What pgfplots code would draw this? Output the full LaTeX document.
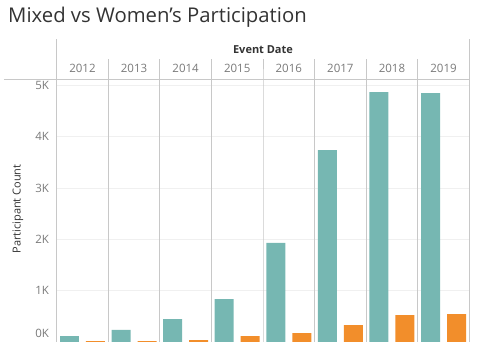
\documentclass[border=0pt]{standalone}
\usepackage{pgfplots}
\pgfplotsset{compat=1.18}
\usepackage{fontspec}
\setmainfont{Open Sans}
\definecolor{mixc}{HTML}{76B7B2}
\definecolor{womc}{HTML}{F28E2B}
\definecolor{sepc}{HTML}{C8C8C8}
\definecolor{gridc}{HTML}{F0F0F0}
\definecolor{tickc}{HTML}{7A7A7A}
\definecolor{titc}{HTML}{333333}
\begin{document}
\begin{tikzpicture}[x=1pt,y=1pt]
\path[use as bounding box] (0,0) rectangle (478,352);
\node[anchor=base west, inner sep=0pt, text=titc, font=\fontsize{20.3}{23}\selectfont] at (8,329) {Mixed vs Women’s Participation};
\node[rotate=90, text=titc, font=\fontsize{11}{13}\selectfont, inner sep=0pt] at (18,143) {Participant Count};
\begin{axis}[
  at={(56.7pt,10pt)}, anchor=south west,
  scale only axis, width=412.6pt, height=262.7pt,
  xmin=0, xmax=8, ymin=0, ymax=5120,
  axis line style={draw=none},
  xtick=\empty,
  ytick={1000,2000,3000,4000,5000},
  yticklabels={1K,2K,3K,4K,5K},
  major tick length=0pt,
  ymajorgrids, grid style={gridc, line width=0.8pt},
  yticklabel style={anchor=east, inner sep=0pt, xshift=-7.5pt, text=tickc, font=\fontsize{11.5}{13}\selectfont},
  clip=false,
]
\addplot[ybar, bar width=0.368, bar shift=0pt, fill=mixc, draw=none] coordinates {
  (0.248,115) (1.248,234) (2.248,448) (3.248,838) (4.248,1930) (5.248,3740) (6.248,4870) (7.248,4850)};
\addplot[ybar, bar width=0.368, bar shift=0pt, fill=womc, draw=none] coordinates {
  (0.752,16) (1.752,16) (2.752,35) (3.752,115) (4.752,175) (5.752,330) (6.752,525) (7.752,545)};
\foreach \i in {1,...,7} {
  \edef\tmp{\noexpand\draw[sepc, line width=0.9pt] (axis cs:\i,0) -- (axis cs:\i,5120) -- ++(0,20.3pt);}\tmp
}
\draw[sepc, line width=0.9pt] (axis cs:0,0) -- (axis cs:0,5120) -- ++(0,40.3pt);
\draw[sepc, line width=0.9pt] (axis cs:8,0) -- (axis cs:8,5120) -- ++(0,40.3pt);
\draw[sepc, line width=0.9pt] (axis cs:0,5120) ++(-52.7pt,0) -- (axis cs:8,5120);
\foreach \y [count=\k from 0] in {2012,2013,2014,2015,2016,2017,2018,2019} {
  \edef\tmp{\noexpand\node[text=tickc, font=\noexpand\fontsize{11.5}{13}\noexpand\selectfont, inner sep=0pt] at (axis cs:\k.5,5120) [yshift=10.5pt] {\y};}\tmp
}
\node[text=titc, font=\fontsize{11}{13}\selectfont\bfseries, inner sep=0pt] at (axis cs:4,5120) [yshift=29.5pt] {Event Date};
\node[anchor=east, inner sep=0pt, text=tickc, font=\fontsize{11.5}{13}\selectfont] at (axis cs:0,0) [xshift=-7.5pt, yshift=9pt] {0K};
\end{axis}
\end{tikzpicture}
\end{document}
